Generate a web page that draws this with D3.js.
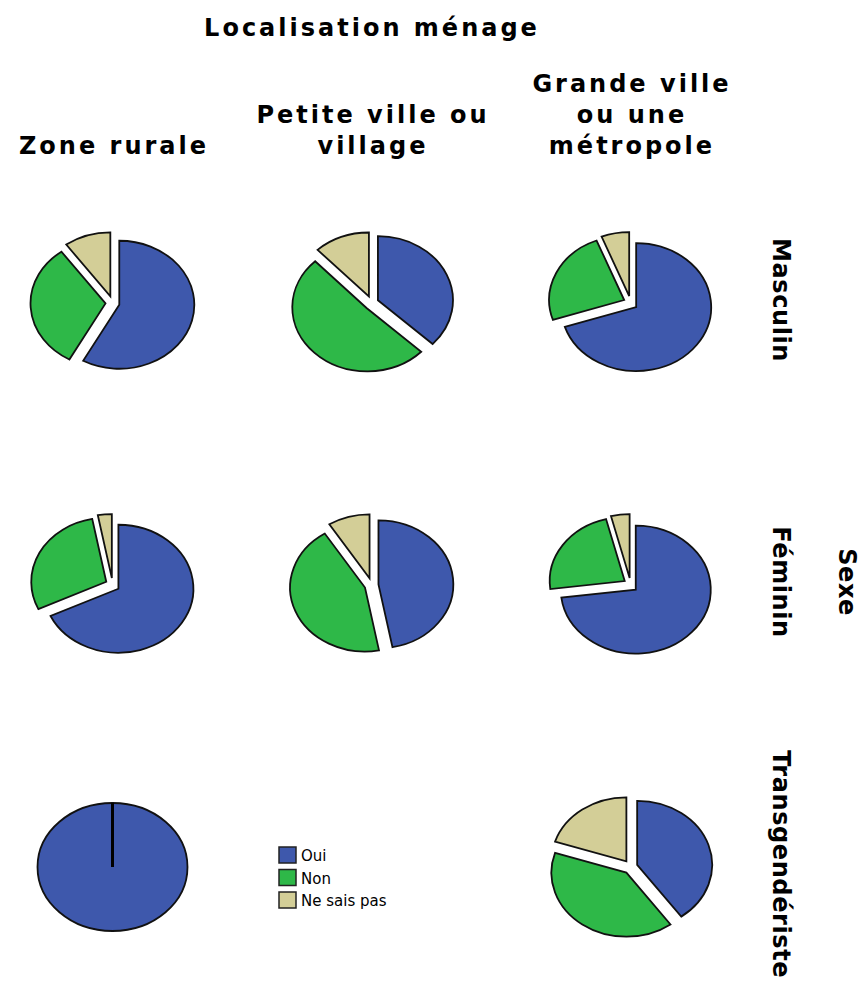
<!DOCTYPE html>
<html>
<head>
<meta charset="utf-8">
<script src="https://cdn.jsdelivr.net/npm/d3@7"></script>
<style>
  body { margin: 0; background: #fff; }
  text { font-family: "DejaVu Sans", sans-serif; fill: #000; }
  .hdr { font-weight: bold; font-size: 24px; letter-spacing: 3px; }
  .row { font-weight: bold; font-size: 24px; letter-spacing: 0.6px; }
</style>
</head>
<body>
<div id="chart"></div>
<script>
const width = 868, height = 981

// categories
const answers = ['Oui', 'Non', 'Ne sais pas']
const locations = ['Zone rurale', 'Petite ville ou village', 'Grande ville ou une métropole']
const locationLines = [['Zone rurale'], ['Petite ville ou', 'village'], ['Grande ville', 'ou une', 'métropole']]
const sexes = ['Masculin', 'Féminin', 'Transgendériste']

// percentages per cell [Oui, Non, Ne sais pas] (null = no data)
const masculin = [[58, 32, 10], [37, 51, 12], [70, 24, 6]]
const feminin = [[68, 29, 3], [47, 44, 9], [73, 23, 4]]
const transgenderiste = [[100, 0, 0], null, [40, 40, 20]]

const colors = ['#3e58ac', '#2eb848', '#d3ce97']

const rowsData = [masculin, feminin, transgenderiste]
const cells = []
rowsData.forEach((row, ri) => row.forEach((vals, ci) => {
    if (vals) cells.push({ sex: sexes[ri], loc: locations[ci], vals })
}))

const svg = d3.select('#chart').append('svg')
    .attr('width', width).attr('height', height)

const x = d3.scaleBand().domain(locations).range([-17, 760])
const y = d3.scaleBand().domain(sexes).range([162, 1008])
const color = d3.scaleOrdinal().domain(answers).range(colors)

const rx = 75, ry = 64, explode = 7

// titles (letter-spacing adds trailing space, so nudge anchor)
svg.append('text').attr('class', 'hdr')
    .attr('x', 372).attr('y', 36).attr('text-anchor', 'middle')
    .text('Localisation ménage')

locationLines.forEach((lines, i) => {
    const cx = x(locations[i]) + x.bandwidth() / 2 + 1.5
    lines.forEach((l, j) => {
        svg.append('text').attr('class', 'hdr')
            .attr('x', cx).attr('y', 154 - (lines.length - 1 - j) * 31)
            .attr('text-anchor', 'middle')
            .text(l)
    })
})

sexes.forEach(s => {
    const cy = y(s) + y.bandwidth() / 2 - 3
    svg.append('text').attr('class', 'row')
        .attr('transform', `translate(781,${cy}) rotate(90)`)
        .attr('text-anchor', 'middle').attr('dominant-baseline', 'central')
        .text(s)
})
svg.append('text').attr('class', 'row')
    .attr('transform', `translate(847,${y(sexes[1]) + y.bandwidth() / 2 - 3}) rotate(90)`)
    .attr('text-anchor', 'middle').attr('dominant-baseline', 'central')
    .text('Sexe')

// pies
const pie = d3.pie().sort(null).value(d => d.v)
const arc = d3.arc().innerRadius(0).outerRadius(1)

const cellG = svg.selectAll('g.cell')
    .data(cells)
    .join('g')
    .attr('class', 'cell')
    .attr('transform', d => `translate(${x(d.loc) + x.bandwidth() / 2},${y(d.sex) + y.bandwidth() / 2})`)

cellG.each(function (d) {
    const g = d3.select(this)
    const slices = pie(answers.map((a, i) => ({ a, v: d.vals[i] }))).filter(s => s.data.v > 0)
    const single = slices.length === 1
    slices.forEach(s => {
        const mid = (s.startAngle + s.endAngle) / 2
        const off = single ? 0 : explode
        g.append('path')
            .attr('transform', `translate(${Math.sin(mid) * off},${-Math.cos(mid) * off}) scale(${rx},${ry})`)
            .attr('d', arc(s))
            .attr('fill', color(s.data.a))
            .attr('stroke', '#111')
            .attr('stroke-width', 1.8)
            .attr('vector-effect', 'non-scaling-stroke')
    })
    if (single) {
        g.append('line')
            .attr('x1', 0).attr('y1', 0).attr('x2', 0).attr('y2', -ry)
            .attr('stroke', '#000').attr('stroke-width', 3)
    }
})

// legend
const legend = svg.append('g').attr('transform', 'translate(279,847)')
answers.forEach((a, i) => {
    legend.append('rect')
        .attr('x', 0).attr('y', i * 22.5)
        .attr('width', 17).attr('height', 16)
        .attr('fill', color(a)).attr('stroke', '#222').attr('stroke-width', 1.5)
    legend.append('text')
        .attr('x', 22).attr('y', i * 22.5 + 14)
        .style('font-size', '15px')
        .text(a)
})
</script>
</body>
</html>
